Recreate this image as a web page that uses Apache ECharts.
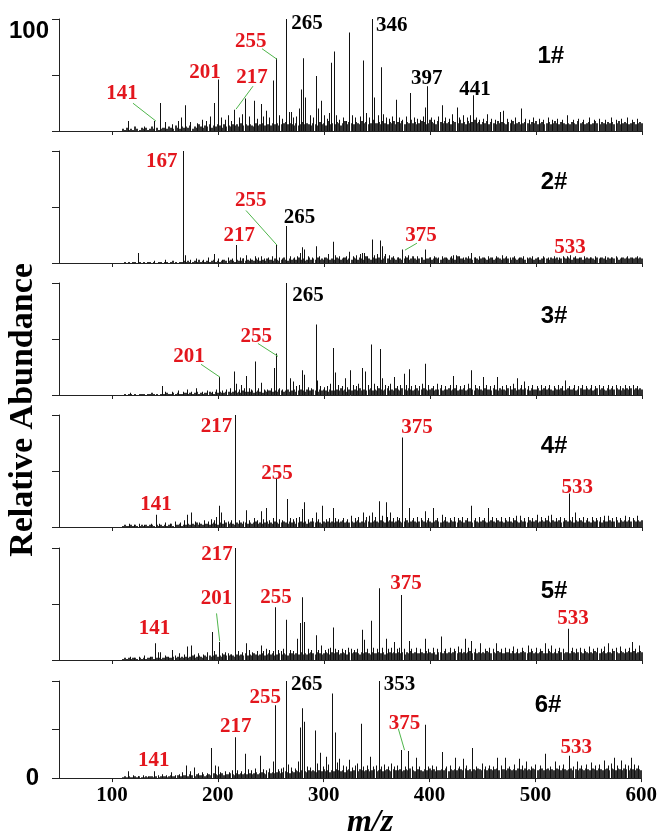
<!DOCTYPE html>
<html>
<head>
<meta charset="utf-8">
<script src="https://cdn.jsdelivr.net/npm/echarts@6/dist/echarts.min.js"></script>
<style>html,body{margin:0;padding:0;background:#fff}#c{width:660px;height:840px}</style>
</head>
<body>
<div id="c"></div>
<script>
// ---- x axis ----
const xTicks = [100, 200, 300, 400, 500, 600];
const yTicks = [0, 50, 100];
const panelTags = ['1#', '2#', '3#', '4#', '5#', '6#'];
const tagPos = [[514, 67], [517, 72], [517, 70], [517, 72], [517, 61], [512, 75]];

// ---- baseline "grass": intensities every 2 m/z starting at m/z 110 ----
const grassStart = 110, grassStep = 2;
const grass1 = [
2,1,3,1,2,1,4,2,1,3, 2,3,1,2,4,2,3,1,2,3, 3,2,4,3,2,5,3,2,4,3, 4,3,5,2,4,3,6,4,3,5,
4,6,3,5,4,6,5,3,6,4, 5,4,6,5,6,4,7,5,6,5, 6,5,4,7,5,6,7,5,6,6, 5,7,6,7,5,6,7,8,6,7,
6,5,7,5,6,8,6,7,6,5, 7,6,5,8,6,7,5,9,6,7, 6,8,7,5,7,9,6,8,7,6, 8,7,6,9,7,8,6,7,10,7,
7,8,6,9,7,6,8,7,9,6, 8,7,9,6,8,7,10,7,8,6, 7,9,8,6,7,10,8,7,6,9, 8,7,9,7,8,6,9,8,7,10,
7,8,6,9,7,8,10,7,8,6, 8,7,9,6,8,7,6,9,7,8, 7,6,8,7,9,6,7,8,6,7, 8,7,6,8,7,9,6,7,8,6,
7,8,6,7,9,7,6,8,7,6, 7,6,8,7,6,9,7,8,6,7, 8,6,7,9,7,6,8,7,6,8, 7,8,6,7,9,6,7,8,7,6,
7,8,6,7,8,7];
const grass2 = [
0,1,0,1,0,1,1,0,1,0, 1,0,1,1,0,1,0,1,1,0, 1,1,0,1,2,1,0,1,1,2, 1,2,1,1,2,1,3,1,2,1,
2,1,2,3,1,2,1,2,3,2, 2,3,2,1,3,2,2,4,2,3, 2,3,2,4,3,2,3,2,4,3, 3,2,4,3,2,3,5,3,2,4,
3,4,3,5,3,4,2,3,5,3, 4,3,5,3,4,3,5,4,3,4, 3,5,4,3,4,5,3,4,3,5, 4,3,5,4,3,6,4,3,5,4,
4,5,3,4,6,4,3,5,4,3, 5,4,3,4,5,3,4,6,4,3, 4,5,3,4,4,5,3,4,5,4, 3,4,5,4,3,5,4,3,6,4,
4,3,5,4,4,3,5,4,3,4, 5,4,3,4,5,3,4,5,4,3, 4,5,4,3,5,4,3,4,5,4, 3,4,5,4,3,4,5,3,4,5,
4,3,5,4,4,5,3,4,5,4, 5,4,3,5,4,4,5,3,4,5, 4,5,4,3,5,4,5,4,3,5, 4,5,4,5,3,4,5,4,5,4,
5,4,5,4,5,4];
const grass3 = [
0,1,0,1,1,0,1,0,1,1, 1,0,1,1,2,1,1,0,1,1, 1,2,1,1,2,1,2,1,1,2, 2,1,2,1,2,3,1,2,1,2,
2,3,2,1,3,2,3,2,2,3, 3,2,3,4,2,3,2,4,3,3, 3,4,2,3,4,3,2,4,3,4, 4,3,4,3,5,4,3,4,5,3,
4,5,3,4,5,4,3,5,4,4, 5,4,3,5,4,5,4,3,5,4, 4,5,4,6,4,5,3,5,4,5, 5,4,6,4,5,4,5,6,4,5,
4,6,5,4,5,6,4,5,4,6, 5,4,6,5,4,6,5,4,5,6, 4,5,6,5,4,5,6,4,5,5, 6,4,5,5,6,4,5,6,4,5,
5,6,4,5,6,5,4,6,5,5, 4,6,5,5,4,6,5,4,6,5, 5,4,6,5,5,6,4,5,6,5, 6,5,4,6,5,5,6,4,5,6,
5,6,5,4,6,5,5,6,4,5, 6,5,5,6,4,5,6,5,5,6, 5,6,4,5,6,5,6,5,4,6, 5,6,5,6,5,4,6,5,6,5,
6,5,6,5,6,5];
const grass4 = [
1,2,1,1,2,1,2,1,1,2, 1,2,1,2,2,1,2,1,2,1, 2,1,2,3,1,2,2,3,1,2, 2,3,2,3,2,4,2,3,2,3,
3,2,3,4,3,2,4,3,3,4, 3,4,3,2,4,3,4,3,4,3, 4,3,4,5,3,4,3,4,5,3, 4,3,5,4,3,4,5,4,3,5,
4,5,3,4,5,4,5,3,4,5, 5,4,5,4,3,5,4,5,4,5, 4,5,4,5,6,4,5,4,5,4, 5,6,4,5,4,6,5,4,5,6,
5,4,6,5,4,5,6,5,4,5, 6,5,4,5,6,4,5,6,5,4, 5,6,5,4,6,5,4,5,6,5, 4,5,6,5,4,6,5,5,4,6,
5,4,6,5,5,4,6,5,4,5, 6,5,4,5,6,5,4,6,5,5, 4,6,5,5,4,6,5,4,6,5, 5,4,6,5,5,6,4,5,6,5,
6,5,4,6,5,5,6,4,5,6, 5,6,5,4,6,5,6,5,4,6, 5,4,6,5,6,5,4,6,5,5, 6,5,5,6,4,6,5,6,5,6,
5,6,5,6,5,6];
const grass5 = [
1,2,1,2,1,2,2,1,2,1, 2,1,2,2,3,1,2,2,1,2, 2,3,2,2,3,2,3,2,3,2, 3,2,3,4,2,3,4,3,2,4,
3,4,3,4,5,3,4,3,5,4, 4,5,4,3,5,4,5,4,6,4, 5,4,6,5,4,5,6,4,5,6, 5,6,4,5,6,5,6,5,4,6,
6,5,6,5,7,5,6,5,6,7, 6,5,7,6,5,6,7,6,5,7, 6,7,5,6,7,6,5,7,6,7, 7,6,5,7,6,7,6,5,7,6,
6,7,6,7,5,6,7,6,7,6, 7,6,7,5,7,6,8,6,7,6, 6,7,6,8,6,7,6,7,5,7, 7,6,8,6,7,6,7,8,6,7,
6,7,6,7,8,6,7,6,7,6, 7,6,8,7,6,7,6,8,7,6, 6,7,7,6,8,6,7,6,7,8, 7,6,7,8,6,7,6,7,8,6,
6,8,7,6,7,6,8,7,6,7, 7,6,8,7,6,7,7,6,8,7, 6,7,6,8,7,6,7,8,6,7, 7,6,8,7,6,8,7,6,7,8,
7,8,6,7,8,7];
const grass6 = [
1,2,1,2,1,1,2,1,2,1, 1,2,1,2,2,1,2,1,2,2, 2,1,2,3,2,2,3,2,2,3, 3,2,4,3,2,4,3,3,4,2,
3,4,3,5,4,3,4,5,3,4, 4,5,4,3,5,4,5,4,5,4, 5,4,5,6,4,5,6,5,4,6, 5,6,5,6,7,5,6,7,6,5,
7,6,8,7,6,8,7,6,8,7, 8,7,6,8,7,9,7,8,6,8, 7,9,8,7,8,6,8,9,7,8, 8,7,9,8,7,8,9,7,8,9,
7,8,9,7,8,9,8,7,9,8, 8,9,7,8,9,8,10,8,7,9, 9,8,7,9,8,10,8,9,7,8, 8,9,8,10,7,9,8,9,8,10,
9,8,10,8,9,7,9,8,10,9, 8,9,8,10,9,8,9,10,8,9, 9,8,10,9,8,9,8,10,9,8, 10,8,9,8,10,9,8,9,10,8,
9,10,8,9,8,10,9,8,10,9, 8,9,10,8,9,8,10,9,8,10, 9,8,10,9,8,10,9,8,9,10, 8,10,9,8,10,9,8,10,9,8,
10,9,8,10,9,8];

// ---- distinct peaks [m/z, relative abundance %] ----
const peaks1 = [[115.6,9],[131,4],[140,9],[145.7,25],[150,8],[157,6],[163,9],[166,12],[169.4,23],[174,8],[181,7],[185,10],[189,9],[193,13],[196.3,25],[200.4,46],[203,12],[207,10],[210,14],[213,9],[216,19],[220,12],[223,15],[226,29],[230,13],[234,27],[237,11],[240.6,24],[243,13],[246,18],[249,12],[252,45],[255,65],[258,14],[261,11],[265,100],[267,17],[269,17],[271,12],[274,13],[276.5,20],[278.6,37],[280.8,65],[283,30],[287,14],[290,12],[292.8,49],[295,20],[297.6,27],[300,14],[303,11],[305,16],[307,61],[309.6,71],[312,14],[315,10],[318,12],[321,9],[324.5,88],[327,14],[330,12],[334,13],[337.5,63],[340,16],[343,12],[346,100],[347.5,30],[351,14],[354,57],[356,15],[359,12],[362,11],[365,13],[368,28],[371,12],[374,10],[378,13],[382,34],[385,12],[388,11],[391,10],[394,13],[396,21],[398,40],[401,12],[404,10],[408,13],[412,23],[415,12],[418,11],[421,15],[425.6,21],[428,12],[432,14],[435,12],[438,14],[441.5,32],[444,12],[447,10],[450,11],[454,15],[458,11],[462,10],[466.6,17],[469.8,18],[473,11],[477,10],[481,12],[486,20],[490,11],[494,10],[498,12],[503,11],[507,10],[512,12],[516,10],[520,11],[525,10],[530,14],[535,10],[540,11],[545,10],[550,12],[555,10],[560,11],[566,10],[571,12],[576,10],[581,11],[586,12],[591,10],[596,11]];
const peaks2 = [[124.8,9],[140,2],[150,3],[167,100],[169,7],[174,3],[180,4],[186,3],[191,5],[197,8],[200,4],[204,3],[210,5],[214,4],[217,16],[221,5],[224,4],[227,7],[231,4],[235,6],[238,5],[241,6],[244,4],[248,5],[251,6],[255,16],[258,5],[261,4],[265,33],[268,6],[272,5],[275,6],[277.5,9],[279.6,14],[282,12],[285,6],[289,5],[293,15],[296,6],[300,5],[304,8],[308.5,19],[311,7],[315,6],[318,5],[321,6],[324,10],[328,6],[331,7],[334,8],[336,9],[338,9],[341,6],[345.6,21],[348,7],[350,8],[353,20],[355.5,15],[358,8],[362,7],[366,6],[370,5],[374,12],[377,6],[380,7],[384,5],[388,6],[392,5],[396,12],[400,5],[404,6],[408,5],[412,6],[416,5],[420,6],[422,7],[424.8,7],[428,6],[432,5],[436,6],[439,9],[443,5],[447,6],[451,5],[455,6],[459,5],[463,6],[468.5,7],[472,6],[476,5],[480,6],[484,5],[488,6],[492,5],[497,6],[502,5],[507,6],[512,5],[517,6],[522,5],[526,6],[529.6,6],[533,7],[537,6],[541,5],[546,6],[551,5],[556,6],[561,5],[566,6],[571,5],[576,6],[581,5],[586,6],[591,5],[596,6]];
const peaks3 = [[117,2],[147.4,8],[150,3],[157,3],[163,4],[167,3],[171.5,5],[175,3],[179.6,6],[185,3],[190,4],[195,3],[199,5],[201,16],[204,4],[208,5],[212,6],[215.5,21],[217.4,10],[220,5],[222,9],[225,6],[227,17],[230,6],[232,5],[235,30],[238,6],[241.5,11],[244,5],[247,5],[250,6],[253.7,24],[255.5,37],[258,6],[261,5],[265,100],[268,15],[271,12],[274,8],[277,9],[279.6,22],[282,18],[285,7],[288,6],[292.6,63],[294,13],[297,8],[300,7],[303,8],[306,10],[308.5,42],[311,20],[314,9],[317,8],[320,15],[322,7],[324.8,22],[328,9],[331,8],[333,10],[336,24],[339,21],[342,9],[345,45],[348,10],[350,8],[353,41],[355,15],[358,9],[361,8],[363,10],[366.7,16],[369,8],[372,9],[376,19],[378,9],[380.4,23],[383,8],[386,9],[390,8],[393,10],[396,28],[399,9],[403,8],[407,10],[411,9],[415,8],[419,9],[422,17],[425,9],[429,8],[433,9],[436,10],[439.6,22],[443,9],[447,8],[450,16],[453,9],[457,8],[461,9],[464,16],[468,8],[472,9],[476,8],[479,10],[483,15],[486,9],[489,12],[493,8],[497,9],[501,8],[505,9],[509,8],[513,9],[517,8],[521,9],[525,8],[528,13],[532,8],[536,9],[540,8],[544,9],[548,8],[552,9],[556,8],[560,9],[564,8],[568,9],[572,8],[576,9],[580,8],[584,9],[588,8],[592,9],[596,8]];
const peaks4 = [[116.7,3],[121,2],[126,3],[131,2],[137,3],[141.8,11],[145,3],[150,4],[155,3],[160,5],[165,4],[168,6],[171.5,11],[175,13],[179,5],[183,4],[187,6],[191,5],[194,7],[197,6],[199,9],[201,19],[203.7,13],[206,6],[210,5],[213,6],[216.7,100],[220,6],[224,5],[227,15],[230,6],[234,8],[237,6],[240.7,14],[243,7],[246,17],[249,6],[252,8],[255,44],[258,7],[261,6],[265.6,25],[268,8],[271,7],[274,8],[277,9],[279.6,16],[282,22],[285,7],[289,8],[292.6,13],[295,7],[298.9,19],[302,7],[305,8],[308.5,17],[311,8],[314,7],[318,8],[322,7],[326,10],[330,8],[333,9],[337,13],[340,9],[343,10],[346,13],[349,9],[352.6,23],[355,10],[358.5,22],[360,9],[363,13],[366,8],[369,9],[371,8],[374,80],[377,8],[380.7,17],[384,8],[388,9],[392,8],[396,14],[399,8],[403.7,17],[407,8],[411.8,11],[415,9],[419,8],[423,9],[427,8],[431,9],[435,8],[439.6,19],[443,8],[447,9],[451,8],[455.5,17],[459,9],[463,8],[467,9],[471,8],[475,9],[479,8],[482,10],[485,10],[489,8],[493,9],[497,8],[501,11],[505,9],[509,8],[512,10],[515,11],[519,8],[523,9],[527,8],[531.5,30],[534,9],[537,13],[541,8],[545,9],[549,8],[553,9],[557,8],[561,9],[565,10],[568.5,10],[572,8],[576,9],[580,8],[584,10],[588,9],[592,8],[596,10]];
const peaks5 = [[117,3],[121,2],[126,3],[131,4],[136,3],[141.5,15],[144,7],[146,7],[150,4],[153,3],[156.7,9],[160,4],[164,6],[168,5],[171.5,12],[175,13],[178,5],[182,6],[186,5],[190,7],[194.4,25],[197,8],[201,16],[204,6],[207,7],[210,6],[213,5],[216.7,100],[219,8],[223,7],[227,15],[230,9],[233,7],[237,8],[240.7,13],[243,8],[246,10],[249,9],[252,8],[254.4,47],[257,9],[260,8],[262,10],[264.8,36],[268,9],[271,8],[275,19],[277.8,33],[280,56],[282,34],[285,10],[288,9],[292.6,22],[295,9],[298,13],[301,9],[304,10],[306,11],[308.5,29],[311,10],[314,9],[317,10],[320,9],[323,11],[326,10],[329,9],[332,10],[336,27],[338,18],[341,10],[344.4,35],[347,11],[350,10],[352,64],[355,11],[358.5,19],[361,10],[364,11],[366.7,16],[369,10],[371,11],[373.3,58],[376,10],[380.4,17],[383,10],[387,11],[391,10],[395.6,19],[399,10],[403,11],[407,10],[411,21],[415,10],[419,11],[423,10],[427,12],[430,10],[433.3,19],[436,11],[439.6,17],[443,10],[448,15],[452,10],[456,11],[460,10],[463,15],[467,10],[471,11],[475,10],[479,12],[483,10],[487,11],[492.6,13],[496,10],[500,11],[504,10],[508.5,15],[512,10],[514.8,13],[518,10],[522,11],[526,10],[530.7,28],[534,11],[538,10],[542,11],[546,10],[550,12],[554,10],[558,11],[562,10],[565,12],[568.5,15],[572,10],[576,11],[580,12],[584,10],[588,11],[590.7,16],[594,10],[598,13]];
const peaks6 = [[115.6,7],[120,3],[125,2],[130,3],[135,2],[140,7],[144,3],[148,4],[152,3],[156,6],[160,3],[164,4],[167,6],[170,13],[174,7],[178,11],[182,5],[186,6],[190,5],[194,31],[198,13],[200.5,12],[203,6],[207,7],[211,6],[214,8],[216.4,42],[219,8],[222,7],[226,25],[229,9],[232,8],[236,10],[240,23],[243,9],[246,8],[249,10],[253,17],[254.5,75],[257,9],[260,10],[262,11],[265,100],[267,14],[270,11],[273,10],[276,17],[278,52],[280,72],[282,58],[285,12],[288,11],[292,49],[294,15],[297,26],[300,12],[303,22],[305,14],[308,87],[311,47],[313,16],[315,20],[319,13],[322,12],[324,19],[327,11],[330,13],[332,15],[335.4,56],[338,12],[341,13],[344.5,22],[347,12],[350,13],[352.5,100],[355,12],[357.6,14],[361,12],[364,15],[367,12],[370,13],[374,29],[377,12],[380,28],[384,12],[388,21],[391,12],[396,55],[399,12],[403,13],[407,12],[412,27],[416,12],[420,13],[424.6,21],[428,12],[431.8,20],[435,13],[440.6,31],[444,12],[449.7,15],[453,12],[457,13],[460,12],[464,21],[468,13],[472,21],[476,12],[480,14],[485,20],[488,13],[492,17],[496,12],[500,14],[505,13],[510,25],[514,12],[519,17],[523,13],[527,14],[532,23],[536,12],[540,17],[544,13],[548,14],[553,16],[557,13],[561,14],[565,18],[569,13],[572,15],[575,21],[578,13],[581,18],[585,14],[588,13],[591,21],[594,14],[597,13]];

// ---- peak annotations [text, m/z, %, colour key] ----
const labels1 = [['141',109.4,33.6,'r'],['201',187.7,52,'r'],['217',232,48,'r'],['255',231,80,'r'],['265',284,95.6,'k'],['346',364,94,'k'],['397',397,47,'k'],['441',442.5,37,'k']];
const labels2 = [['167',147,91,'r'],['255',231,55.8,'r'],['265',277,40.7,'k'],['217',220,24.8,'r'],['375',391.5,24.8,'r'],['533',532,14,'r']];
const labels3 = [['265',285,88.5,'k'],['255',236,52,'r'],['201',172.6,34.5,'r']];
const labels4 = [['217',198.6,90,'r'],['375',387.7,88.5,'r'],['255',255.7,47.8,'r'],['533',539,35.4,'r'],['141',141.5,20,'r']];
const labels5 = [['217',199,94,'r'],['375',377.4,68,'r'],['255',254.7,55.8,'r'],['201',198.6,54.8,'r'],['533',535,37,'r'],['141',140,28.3,'r']];
const labels6 = [['265',284,96,'k'],['353',371.7,96,'k'],['255',244.8,83,'r'],['217',216.9,53.4,'r'],['375',376.4,56.4,'r'],['533',538.7,31,'r'],['141',139.6,17.8,'r']];
// leader lines [m/z1, %1, m/z2, %2]
const leaders1 = [[119.8,24.8,141.5,8.8],[233,40,217,19.5],[241.5,73.5,255.7,64]];
const leaders2 = [[226.4,46.9,255.7,15.9],[387.7,17.7,376.4,11.5]];
const leaders3 = [[237.7,46,256.6,34.5],[184,27.4,201.9,15.9]];
const leaders4 = [];
const leaders5 = [[198.6,41.6,201.6,16.8]];
const leaders6 = [[370.5,51,376.4,28.8]];

const grassAll = [grass1, grass2, grass3, grass4, grass5, grass6];
const peaksAll = [peaks1, peaks2, peaks3, peaks4, peaks5, peaks6];
const labelsAll = [labels1, labels2, labels3, labels4, labels5, labels6];
const leadersAll = [leaders1, leaders2, leaders3, leaders4, leaders5, leaders6];

// ---- layout / style ----
const RED = '#e3161d', GREEN = '#4fb64b', INK = '#000';
const gridTops = [19, 151, 283, 415, 548, 681];
const gridH = 112;
const SERIF = '"Liberation Serif","Times New Roman",serif';
const SANS = '"Liberation Sans",Arial,sans-serif';

function stick(width, color) {
  return function (params, api) {
    const x = api.value(0), v = api.value(1);
    if (!v) return null;
    const p0 = api.coord([x, 0]);
    const p1 = api.coord([x, v]);
    const left = width === 1 ? Math.floor(p0[0]) : Math.round(p0[0]) - width / 2;
    return {
      type: 'rect',
      shape: { x: left, y: p1[1], width: width, height: p0[1] - p1[1] },
      style: { fill: color }
    };
  };
}
function leaderItem(params, api) {
  const a = api.coord([api.value(0), api.value(1)]);
  const b = api.coord([api.value(2), api.value(3)]);
  return { type: 'line', shape: { x1: a[0], y1: a[1], x2: b[0], y2: b[1] }, style: { stroke: GREEN, lineWidth: 1 } };
}

const grids = [], xAxes = [], yAxes = [], series = [];
for (let i = 0; i < 6; i++) {
  const last = i === 5, first = i === 0;
  grids.push({ left: 59, right: 18, top: gridTops[i], height: gridH });
  xAxes.push({
    gridIndex: i, type: 'value', min: 50, max: 600,
    axisLine: { show: true, lineStyle: { color: '#222', width: 1 } },
    axisTick: { show: true, length: 4, customValues: xTicks, lineStyle: { color: '#222' } },
    axisLabel: last ? { show: true, customValues: xTicks, margin: 7, color: '#000',
      fontFamily: SERIF, fontWeight: 'bold', fontSize: 21 } : { show: false },
    splitLine: { show: false },
    name: last ? 'm/z' : '', nameLocation: 'middle', nameGap: 15,
    nameTextStyle: { fontFamily: SERIF, fontStyle: 'italic', fontWeight: 'bold', fontSize: 32, color: '#000', padding: [0, 0, 0, 40] }
  });
  yAxes.push({
    gridIndex: i, type: 'value', min: 0, max: 100, interval: 50,
    axisLine: { show: true, lineStyle: { color: '#222', width: 1 } },
    axisTick: { show: true, length: 7, lineStyle: { color: '#222' } },
    axisLabel: (first || last) ? {
      show: true, customValues: first ? [100] : [0], color: '#000',
      fontFamily: SANS, fontWeight: 'bold', fontSize: 24,
      margin: first ? 10 : 20, verticalAlign: first ? 'top' : 'middle'
    } : { show: false },
    splitLine: { show: false }
  });
  const gd = grassAll[i].map((v, k) => [grassStart + k * grassStep, v]);
  series.push({ type: 'custom', xAxisIndex: i, yAxisIndex: i, renderItem: stick(2, '#333'), data: gd, silent: true });
  series.push({ type: 'custom', xAxisIndex: i, yAxisIndex: i, renderItem: stick(1, '#111'), data: peaksAll[i], silent: true });
  series.push({ type: 'custom', xAxisIndex: i, yAxisIndex: i, renderItem: leaderItem,
    encode: { x: [0, 2], y: [1, 3] }, data: leadersAll[i], silent: true });
  const ld = labelsAll[i].map(l => ({ name: l[0], value: [l[1], l[2]],
    label: { color: l[3] === 'r' ? RED : INK } }));
  ld.push({ name: panelTags[i], value: tagPos[i],
    label: { color: '#000', fontFamily: SANS, fontSize: 24 } });
  series.push({ type: 'scatter', xAxisIndex: i, yAxisIndex: i, symbolSize: 0, silent: true, data: ld,
    itemStyle: { opacity: 1 },
    label: { show: true, position: 'inside', formatter: '{b}', fontFamily: SERIF, fontWeight: 'bold', fontSize: 21,
      align: 'center', verticalAlign: 'middle', opacity: 1 } });
}

const chart = echarts.init(document.getElementById('c'), null, { renderer: 'canvas' });
chart.setOption({
  animation: false,
  backgroundColor: '#fff',
  grid: grids, xAxis: xAxes, yAxis: yAxes, series: series,
  graphic: [{
    type: 'text', x: 23, y: 410, rotation: Math.PI / 2,
    style: { text: 'Relative Abundance', font: 'bold 34px ' + SERIF, fill: '#000',
      align: 'center', verticalAlign: 'middle', textAlign: 'center', textVerticalAlign: 'middle' }
  }]
});
</script>
</body>
</html>
